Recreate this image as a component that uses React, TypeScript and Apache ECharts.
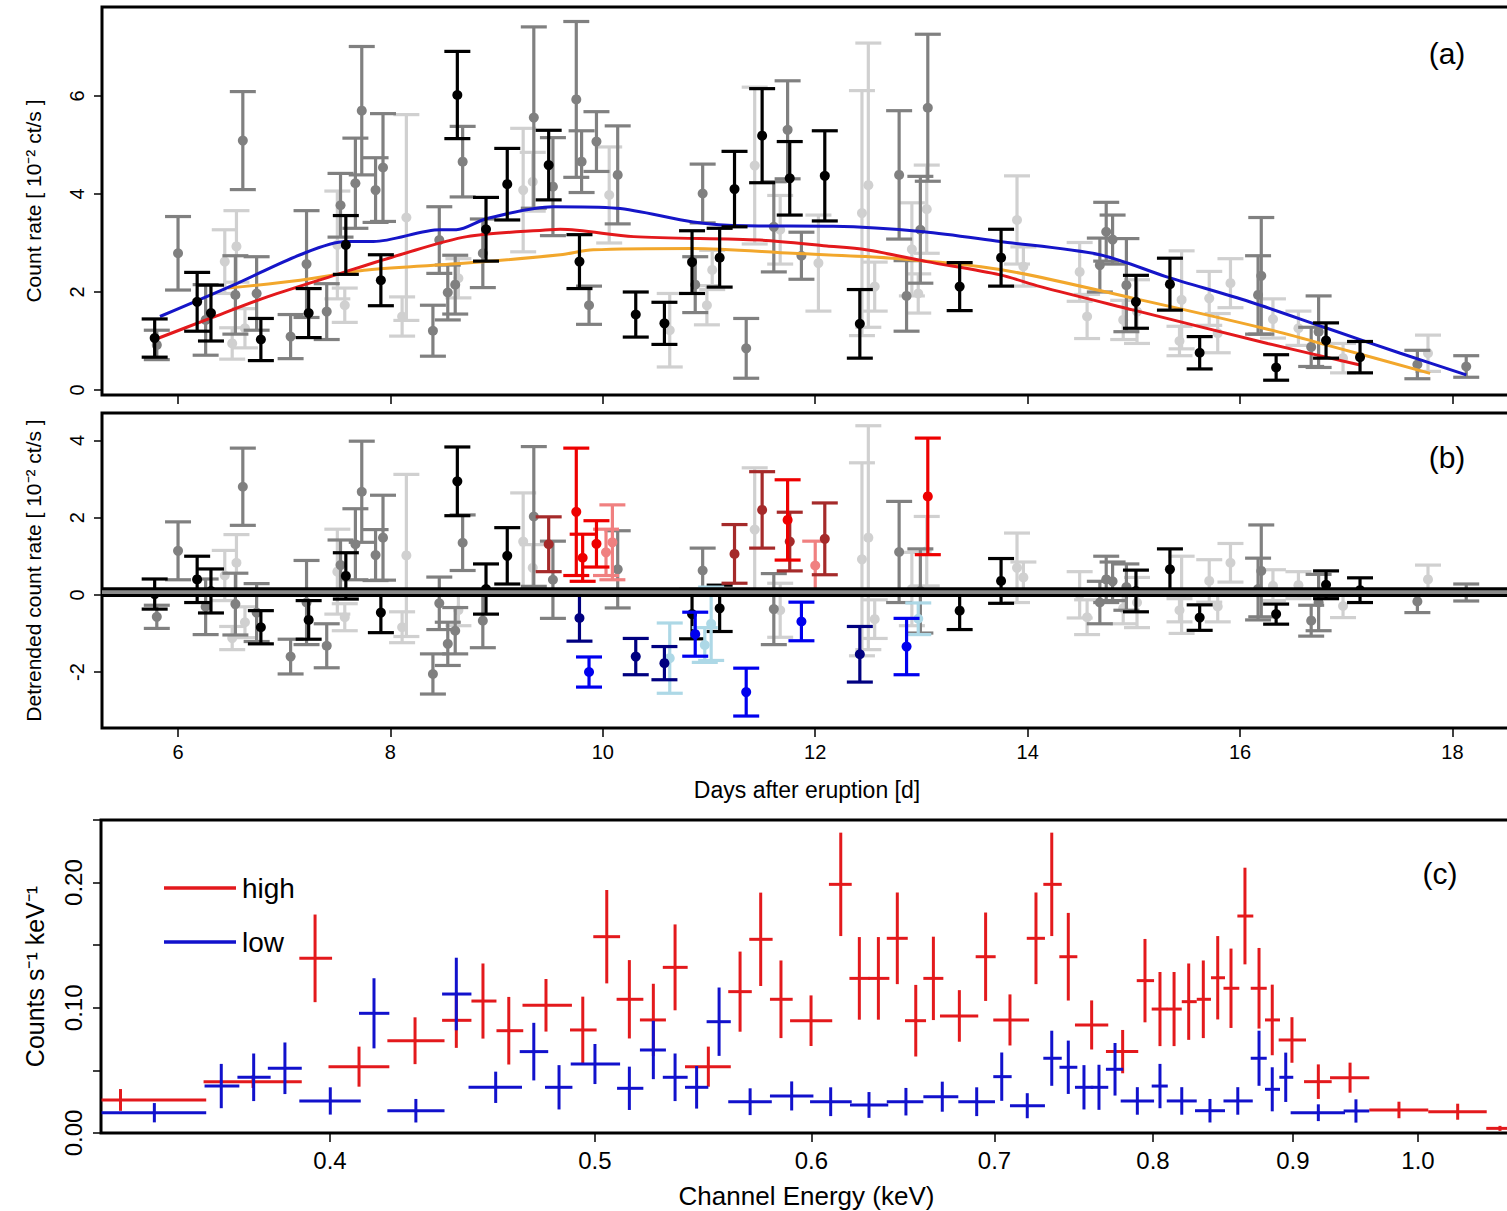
import React, { useEffect, useRef } from "react";
import * as echarts from "echarts";

const FONT = "'Liberation Sans', Arial, Helvetica, sans-serif";

// ---------- Panel (a): count rate, [day, rate, error] ----------
const aBlack = [
  [5.78, 1.06, 0.39], [6.18, 1.8, 0.6], [6.31, 1.57, 0.57], [6.78, 1.03, 0.43], [7.23, 1.57, 0.5],
  [7.58, 2.96, 0.6], [7.91, 2.24, 0.52], [8.63, 6.02, 0.89], [8.9, 3.28, 0.65], [9.1, 4.2, 0.73],
  [9.49, 4.59, 0.71], [9.78, 2.62, 0.55], [10.31, 1.54, 0.46], [10.58, 1.36, 0.43], [10.84, 2.61, 0.64],
  [11.1, 2.7, 0.6], [11.24, 4.1, 0.77], [11.5, 5.19, 0.96], [11.76, 4.32, 0.75], [12.09, 4.37, 0.92],
  [12.42, 1.35, 0.7], [13.36, 2.11, 0.49], [13.75, 2.7, 0.58], [15.02, 1.8, 0.54], [15.34, 2.16, 0.53],
  [15.62, 0.76, 0.33], [16.34, 0.46, 0.26], [16.81, 1.01, 0.36], [17.13, 0.67, 0.32],
];
const aGray = [
  [5.8, 0.92, 0.3], [6.0, 2.79, 0.75], [6.26, 1.43, 0.72], [6.54, 1.94, 0.8], [6.61, 5.09, 1.0],
  [6.74, 1.97, 0.75], [7.06, 1.09, 0.45], [7.21, 2.57, 1.09], [7.4, 1.6, 0.57], [7.53, 3.77, 0.65],
  [7.67, 4.22, 0.92], [7.73, 5.7, 1.31], [7.86, 4.08, 0.66], [7.93, 4.54, 1.1], [8.4, 1.21, 0.52],
  [8.46, 3.06, 0.68], [8.54, 1.99, 0.56], [8.61, 2.15, 0.6], [8.68, 4.66, 0.72], [8.87, 2.79, 0.7],
  [9.35, 5.56, 1.85], [9.53, 4.15, 1.0], [9.75, 5.93, 1.59], [9.8, 4.66, 0.63], [9.87, 1.73, 0.39],
  [9.94, 5.07, 0.61], [10.14, 4.39, 1.0], [10.87, 2.15, 0.57], [10.94, 4.01, 0.6], [11.35, 0.85, 0.61],
  [11.61, 3.33, 0.92], [11.74, 5.31, 1.0], [11.87, 2.74, 0.48], [12.79, 4.39, 1.31], [12.86, 1.92, 0.72],
  [12.99, 3.27, 1.09], [13.06, 5.76, 1.5], [14.68, 2.55, 0.55], [14.74, 3.23, 0.6], [14.8, 3.07, 0.5],
  [14.93, 2.14, 0.95], [16.17, 1.94, 0.8], [16.2, 2.33, 1.19], [16.67, 0.88, 0.4], [16.74, 1.19, 0.73],
  [17.67, 0.52, 0.29], [18.13, 0.48, 0.22],
];
const aLight = [
  [6.44, 2.62, 0.65], [6.51, 0.95, 0.32], [6.55, 2.93, 0.73], [6.63, 1.26, 0.4], [7.5, 2.96, 1.1],
  [7.57, 1.73, 0.35], [8.11, 1.5, 0.4], [8.15, 3.52, 2.1], [8.64, 2.28, 0.4], [9.25, 4.08, 1.26],
  [9.34, 4.25, 0.6], [10.06, 3.98, 0.98], [10.63, 1.22, 0.75], [10.98, 1.73, 0.4], [11.03, 2.45, 0.4],
  [11.43, 4.58, 1.6], [11.67, 3.27, 0.7], [12.03, 2.59, 0.98], [12.44, 3.61, 2.5], [12.5, 4.18, 2.9],
  [12.56, 2.11, 0.5], [12.91, 2.87, 0.95], [12.97, 1.97, 0.4], [13.05, 3.69, 0.9], [13.9, 3.47, 0.9],
  [13.96, 2.52, 0.4], [14.49, 2.41, 0.6], [14.56, 1.5, 0.45], [14.9, 1.43, 0.4], [15.03, 1.6, 0.65],
  [15.43, 1.0, 0.3], [15.45, 1.84, 1.0], [15.71, 1.87, 0.55], [15.79, 1.16, 0.4], [15.91, 2.18, 0.5],
  [16.31, 1.46, 0.4], [16.55, 1.26, 0.35], [16.97, 0.65, 0.3], [17.77, 0.75, 0.37],
];
const trendBlue = [
  [5.83, 1.5], [6.52, 2.14], [7.15, 2.76], [7.58, 3.03], [7.84, 3.03], [8.47, 3.27], [8.62, 3.27],
  [8.91, 3.5], [9.53, 3.74], [10.13, 3.71], [10.85, 3.43], [11.35, 3.35], [12.17, 3.34], [13.02, 3.23],
  [13.74, 3.03], [14.68, 2.76], [15.31, 2.31], [16.09, 1.8], [16.82, 1.26], [17.51, 0.75], [18.13, 0.31],
];
const trendRed = [
  [5.77, 1.02], [6.3, 1.46], [6.84, 1.9], [7.53, 2.38], [8.09, 2.76], [8.72, 3.13], [9.5, 3.27],
  [9.6, 3.28], [10.29, 3.13], [11.48, 3.06], [12.11, 2.94], [12.48, 2.86], [13.05, 2.62], [13.74, 2.35],
  [14.12, 2.11], [15.0, 1.63], [16.26, 0.95], [17.13, 0.51],
];
const trendOrange = [
  [6.47, 2.08], [7.15, 2.24], [7.78, 2.45], [8.72, 2.59], [9.6, 2.76], [9.91, 2.86], [10.85, 2.89],
  [11.79, 2.79], [12.73, 2.69], [13.74, 2.46], [15.0, 1.87], [16.26, 1.24], [16.88, 0.88], [17.79, 0.34],
];

// ---------- Panel (b): detrended count rate, [day, value, error] ----------
const bBlack = [
  [5.78, 0.02, 0.39], [6.18, 0.4, 0.6], [6.31, 0.1, 0.57], [6.78, -0.84, 0.43], [7.23, -0.65, 0.5],
  [7.58, 0.49, 0.6], [7.91, -0.46, 0.52], [8.63, 2.94, 0.89], [8.9, 0.15, 0.65], [9.1, 1.01, 0.73],
  [10.84, -0.5, 0.64], [11.1, -0.35, 0.6], [13.36, -0.41, 0.49], [13.75, 0.36, 0.58], [15.02, 0.1, 0.54],
  [15.34, 0.66, 0.53], [15.62, -0.59, 0.33], [16.34, -0.5, 0.26], [16.81, 0.26, 0.36], [17.13, 0.12, 0.32],
];
const bGray = [
  [5.8, -0.57, 0.3], [6.0, 1.14, 0.75], [6.26, -0.31, 0.72], [6.54, -0.24, 0.8], [6.61, 2.8, 1.0],
  [6.74, -0.46, 0.75], [7.06, -1.6, 0.45], [7.21, -0.2, 1.09], [7.4, -1.32, 0.57], [7.53, 0.77, 0.65],
  [7.67, 1.31, 0.92], [7.73, 2.67, 1.31], [7.86, 1.03, 0.66], [7.93, 1.48, 1.1], [8.4, -2.05, 0.52],
  [8.46, -0.22, 0.68], [8.54, -1.27, 0.56], [8.61, -0.93, 0.6], [8.68, 1.35, 0.72], [8.87, -0.67, 0.7],
  [9.35, 2.03, 1.81], [9.53, 0.39, 1.0], [10.14, 0.66, 1.0], [10.94, 0.63, 0.58], [11.61, -0.37, 0.92],
  [12.79, 1.11, 1.31], [12.99, 0.1, 1.09], [14.68, -0.2, 0.55], [14.74, 0.4, 0.6], [14.8, 0.35, 0.5],
  [14.93, 0.2, 0.6], [16.17, 0.15, 0.8], [16.2, 0.62, 1.19], [16.67, -0.67, 0.4], [16.74, -0.2, 0.73],
  [17.67, -0.17, 0.29], [18.13, 0.06, 0.22],
];
const bLight = [
  [6.44, 0.5, 0.65], [6.51, -1.12, 0.3], [6.55, 0.83, 0.73], [6.63, -0.71, 0.4], [7.5, 0.6, 1.1],
  [7.57, -0.58, 0.35], [8.11, -0.84, 0.4], [8.15, 1.02, 2.1], [8.64, -0.4, 0.4], [9.25, 1.38, 1.26],
  [9.34, 0.7, 0.6], [11.43, 1.69, 1.6], [11.67, -0.4, 0.7], [12.44, 0.92, 2.5], [12.5, 1.48, 2.9],
  [12.56, -0.63, 0.5], [12.91, 0.15, 0.95], [13.05, 1.13, 0.9], [13.9, 0.7, 0.9], [13.96, 0.45, 0.4],
  [14.49, 0.0, 0.6], [14.56, -0.58, 0.45], [14.9, -0.35, 0.4], [15.03, -0.2, 0.65], [15.43, -0.4, 0.3],
  [15.45, 0.0, 1.0], [15.71, 0.36, 0.55], [15.79, -0.3, 0.4], [15.91, 0.83, 0.5], [16.31, 0.25, 0.4],
  [16.55, 0.25, 0.35], [16.97, -0.29, 0.3], [17.77, 0.4, 0.37],
];
const bHighDark = [[9.49, 1.31, 0.71], [11.24, 1.06, 0.76], [11.5, 2.2, 0.99], [11.76, 1.38, 0.76], [12.09, 1.45, 0.93]];
const bHigh = [[9.75, 2.15, 1.65], [9.81, 0.96, 0.61], [9.94, 1.32, 0.6], [11.74, 1.94, 1.04], [13.06, 2.55, 1.51]];
const bHighLight = [[10.03, 1.1, 0.6], [10.09, 1.36, 0.97], [12.0, 0.76, 0.63]];
const bLowDark = [[9.78, -0.6, 0.6], [10.31, -1.6, 0.47], [10.58, -1.77, 0.43], [12.42, -1.54, 0.72]];
const bLow = [[9.87, -2.0, 0.39], [10.87, -1.02, 0.57], [11.35, -2.52, 0.62], [11.87, -0.69, 0.5], [12.86, -1.34, 0.73]];
const bLowLight = [[10.63, -1.64, 0.91], [10.96, -1.3, 0.45], [11.02, -0.75, 0.95], [12.97, -0.62, 0.41]];
const zeroBand = [[12, -0.02, 0.16]];

// ---------- Panel (c): spectra, [energy keV, bin low, bin high, counts/s/keV, error] ----------
const highSpec = [
  [0.3353, 0.33, 0.3604, 0.0264, 0.0087], [0.3749, 0.3596, 0.3906, 0.041, 0.005],
  [0.395, 0.3898, 0.4007, 0.1395, 0.035], [0.4099, 0.3995, 0.4205, 0.053, 0.016],
  [0.4297, 0.4198, 0.4405, 0.0737, 0.0187], [0.4449, 0.4396, 0.4506, 0.09, 0.022],
  [0.455, 0.4506, 0.4602, 0.1054, 0.03], [0.465, 0.4602, 0.4707, 0.0817, 0.027],
  [0.4798, 0.4704, 0.4904, 0.102, 0.021], [0.4949, 0.4896, 0.5007, 0.0823, 0.0266],
  [0.505, 0.4993, 0.5107, 0.1568, 0.0373], [0.5147, 0.5092, 0.5208, 0.1068, 0.0313],
  [0.5252, 0.5193, 0.5308, 0.0903, 0.0289], [0.5349, 0.5294, 0.5406, 0.1323, 0.0343],
  [0.5501, 0.5394, 0.5606, 0.053, 0.016], [0.565, 0.5594, 0.5706, 0.1129, 0.032],
  [0.5749, 0.5694, 0.5807, 0.1547, 0.0373], [0.5848, 0.5794, 0.5906, 0.1068, 0.031],
  [0.5998, 0.5893, 0.6106, 0.0897, 0.0202], [0.615, 0.6089, 0.6207, 0.1986, 0.0413],
  [0.6247, 0.6195, 0.6303, 0.1235, 0.033], [0.6348, 0.6294, 0.6407, 0.1235, 0.033],
  [0.645, 0.6393, 0.6507, 0.1555, 0.0366], [0.6551, 0.6492, 0.6608, 0.0897, 0.0286],
  [0.6649, 0.6593, 0.6705, 0.1235, 0.0333], [0.6796, 0.6686, 0.6905, 0.0935, 0.0206],
  [0.6948, 0.689, 0.7007, 0.1408, 0.0353], [0.7092, 0.6993, 0.7207, 0.0903, 0.0204],
  [0.7249, 0.7193, 0.7304, 0.1555, 0.0366], [0.7346, 0.7294, 0.7408, 0.1986, 0.0413],
  [0.7449, 0.7393, 0.7506, 0.1408, 0.035], [0.7597, 0.7491, 0.7704, 0.0863, 0.0196],
  [0.7798, 0.7689, 0.7901, 0.065, 0.0173], [0.7946, 0.7891, 0.8007, 0.1217, 0.0333],
  [0.8047, 0.7991, 0.8097, 0.099, 0.0296], [0.8143, 0.8093, 0.8196, 0.099, 0.0296],
  [0.8244, 0.8196, 0.83, 0.1049, 0.0305], [0.8346, 0.83, 0.84, 0.1068, 0.031],
  [0.8448, 0.84, 0.85, 0.124, 0.0333], [0.8543, 0.8489, 0.8603, 0.1156, 0.0317],
  [0.8644, 0.8589, 0.8705, 0.1733, 0.0386], [0.8747, 0.8686, 0.8804, 0.1156, 0.0322],
  [0.8845, 0.8791, 0.8903, 0.0903, 0.0282], [0.8993, 0.8893, 0.91, 0.0743, 0.0182],
  [0.9195, 0.9085, 0.9299, 0.041, 0.0138], [0.9444, 0.9286, 0.9598, 0.0442, 0.012],
  [0.9841, 0.9598, 1.0087, 0.0184, 0.0066], [1.034, 1.0087, 1.0596, 0.017, 0.0064],
  [1.0715, 1.0592, 1.0852, 0.0037, 0.002],
];
const lowSpec = [
  [0.345, 0.33, 0.3604, 0.0162, 0.0077], [0.365, 0.3599, 0.3706, 0.0375, 0.0177],
  [0.3751, 0.37, 0.3805, 0.0445, 0.019], [0.3851, 0.3796, 0.3906, 0.0517, 0.0206],
  [0.4001, 0.3898, 0.4105, 0.0256, 0.0109], [0.4151, 0.4099, 0.4205, 0.0956, 0.028],
  [0.43, 0.4198, 0.4405, 0.0178, 0.0094], [0.4449, 0.4396, 0.4506, 0.111, 0.029],
  [0.4599, 0.4495, 0.4702, 0.0365, 0.0125], [0.4749, 0.4693, 0.4807, 0.065, 0.023],
  [0.4851, 0.4794, 0.4906, 0.0365, 0.0177], [0.5, 0.4899, 0.5107, 0.0551, 0.016],
  [0.5147, 0.5094, 0.5208, 0.0357, 0.0173], [0.5252, 0.5193, 0.5308, 0.0663, 0.0233],
  [0.5349, 0.5294, 0.5406, 0.0445, 0.019], [0.5447, 0.5394, 0.5501, 0.0365, 0.017],
  [0.5551, 0.5493, 0.5606, 0.0889, 0.0273], [0.5698, 0.5594, 0.5803, 0.025, 0.0107],
  [0.5901, 0.5794, 0.601, 0.0296, 0.0116], [0.6098, 0.5993, 0.6207, 0.025, 0.0115],
  [0.6298, 0.6198, 0.6401, 0.0224, 0.0103], [0.6497, 0.6393, 0.6593, 0.025, 0.011],
  [0.6699, 0.6593, 0.679, 0.029, 0.012], [0.6896, 0.679, 0.7003, 0.025, 0.0115],
  [0.7043, 0.6993, 0.7102, 0.045, 0.0193], [0.7196, 0.7092, 0.7304, 0.0218, 0.01],
  [0.7346, 0.7294, 0.7408, 0.0597, 0.022], [0.7449, 0.7394, 0.7506, 0.0525, 0.0213],
  [0.7548, 0.7491, 0.7608, 0.0365, 0.0177], [0.7644, 0.7591, 0.7704, 0.0365, 0.018],
  [0.7748, 0.7689, 0.7802, 0.0509, 0.021], [0.7895, 0.7785, 0.8007, 0.0256, 0.011],
  [0.8047, 0.7991, 0.81, 0.0375, 0.0177], [0.8196, 0.8093, 0.83, 0.0256, 0.011],
  [0.8393, 0.8288, 0.85, 0.0178, 0.0094], [0.8592, 0.8489, 0.8701, 0.0256, 0.011],
  [0.8747, 0.8686, 0.8804, 0.0597, 0.022], [0.8845, 0.8791, 0.8903, 0.0349, 0.0176],
  [0.8946, 0.8898, 0.9003, 0.0445, 0.0197], [0.9195, 0.8983, 0.9404, 0.0162, 0.0067],
  [0.9491, 0.9393, 0.9598, 0.0176, 0.0093],
];

// ---------- axis ticks ----------
const dayTicks = [6, 8, 10, 12, 14, 16, 18];
const rateTicks = [0, 2, 4, 6];
const detrendTicks = [-2, 0, 2, 4];
const energyTicks = [0.4, 0.5, 0.6, 0.7, 0.8, 0.9, 1.0];
const specTicks = [0, 0.05, 0.1, 0.15, 0.2, 0.25];
const specLabels = [0, 0.1, 0.2];

const DAY_MIN = 5.284;
const DAY_MAX = 18.561;
const E_MIN = 0.32984;
const E_MAX = 1.0824;

function errorBars(data: number[][], color: string, gi: number, z: number) {
  return {
    type: "custom",
    xAxisIndex: gi,
    yAxisIndex: gi,
    z,
    clip: true,
    silent: true,
    data,
    encode: { x: 0, y: 1 },
    renderItem: (_p: any, api: any) => {
      const x = api.value(0);
      const y = api.value(1);
      const e = api.value(2);
      const p = api.coord([x, y]);
      const t = api.coord([x, y + e]);
      const b = api.coord([x, y - e]);
      const cap = 13;
      const st = { stroke: color, lineWidth: 3.2, fill: null };
      return {
        type: "group",
        children: [
          { type: "line", shape: { x1: p[0], y1: t[1], x2: p[0], y2: b[1] }, style: st },
          { type: "line", shape: { x1: p[0] - cap, y1: t[1], x2: p[0] + cap, y2: t[1] }, style: st },
          { type: "line", shape: { x1: p[0] - cap, y1: b[1], x2: p[0] + cap, y2: b[1] }, style: st },
          { type: "circle", shape: { cx: p[0], cy: p[1], r: 5 }, style: { fill: color } },
        ],
      };
    },
  };
}

function crosses(data: number[][], color: string) {
  return {
    type: "custom",
    xAxisIndex: 2,
    yAxisIndex: 2,
    z: 3,
    clip: true,
    silent: true,
    data: data.map((d) => [Math.log10(d[0]), Math.log10(d[1]), Math.log10(d[2]), d[3], d[4]]),
    encode: { x: 0, y: 3 },
    renderItem: (_p: any, api: any) => {
      const x = api.value(0);
      const lo = api.value(1);
      const hi = api.value(2);
      const y = api.value(3);
      const e = api.value(4);
      const L = api.coord([lo, y]);
      const R = api.coord([hi, y]);
      const T = api.coord([x, y + e]);
      const B = api.coord([x, y - e]);
      const st = { stroke: color, lineWidth: 3, fill: null };
      return {
        type: "group",
        children: [
          { type: "line", shape: { x1: L[0], y1: L[1], x2: R[0], y2: R[1] }, style: st },
          { type: "line", shape: { x1: T[0], y1: T[1], x2: B[0], y2: B[1] }, style: st },
        ],
      };
    },
  };
}

function trend(data: number[][], color: string) {
  return {
    type: "line",
    xAxisIndex: 0,
    yAxisIndex: 0,
    z: 4,
    data,
    showSymbol: false,
    symbol: "none",
    smooth: 0.3,
    silent: true,
    lineStyle: { color, width: 3 },
  };
}

const tickStyle = { color: "#000", width: 1.5 };
const hiddenLine = { show: false, onZero: false };
const gridBase = {
  show: true,
  borderColor: "#000",
  borderWidth: 3,
  backgroundColor: "transparent",
  containLabel: false,
  outerBoundsMode: "none",
};

function buildOption() {
  const labelBase = { color: "#000", fontFamily: FONT };
  return {
    animation: false,
    backgroundColor: "#ffffff",
    textStyle: { fontFamily: FONT },
    grid: [
      { ...gridBase, left: 102, top: 7, width: 1410, height: 388 },
      { ...gridBase, left: 102, top: 413, width: 1410, height: 315 },
      { ...gridBase, left: 101, top: 820, width: 1411, height: 313 },
    ],
    xAxis: [
      {
        gridIndex: 0, type: "value", min: DAY_MIN, max: DAY_MAX, position: "bottom",
        axisLine: hiddenLine, splitLine: { show: false },
        axisTick: { show: true, length: 9, lineStyle: tickStyle, customValues: dayTicks },
        axisLabel: { show: false },
      },
      {
        gridIndex: 1, type: "value", min: DAY_MIN, max: DAY_MAX, position: "bottom",
        axisLine: hiddenLine, splitLine: { show: false },
        axisTick: { show: true, length: 9, lineStyle: tickStyle, customValues: dayTicks },
        axisLabel: { ...labelBase, fontSize: 20, margin: 14, customValues: dayTicks },
        name: "Days after eruption [d]", nameLocation: "middle", nameGap: 50,
        nameTextStyle: { ...labelBase, fontSize: 23 },
      },
      {
        gridIndex: 2, type: "value", min: Math.log10(E_MIN), max: Math.log10(E_MAX), position: "bottom",
        axisLine: hiddenLine, splitLine: { show: false },
        axisTick: { show: true, length: 9, lineStyle: tickStyle, customValues: energyTicks.map((v) => Math.log10(v)) },
        axisLabel: {
          ...labelBase, fontSize: 24, margin: 15,
          customValues: energyTicks.map((v) => Math.log10(v)),
          formatter: (v: number) => Math.pow(10, v).toFixed(1),
        },
        name: "Channel Energy (keV)", nameLocation: "middle", nameGap: 50,
        nameTextStyle: { ...labelBase, fontSize: 26 },
      },
    ],
    yAxis: [
      {
        gridIndex: 0, type: "value", min: -0.102, max: 7.816, position: "left",
        axisLine: hiddenLine, splitLine: { show: false },
        axisTick: { show: true, length: 8, lineStyle: tickStyle, customValues: rateTicks },
        axisLabel: { ...labelBase, fontSize: 20, margin: 15, rotate: 90, customValues: rateTicks },
        name: "Count rate [ 10\u207B\u00B2 ct/s ]", nameLocation: "middle", nameGap: 58,
        nameTextStyle: { ...labelBase, fontSize: 21 },
      },
      {
        gridIndex: 1, type: "value", min: -3.45, max: 4.71, position: "left",
        axisLine: hiddenLine, splitLine: { show: false },
        axisTick: { show: true, length: 8, lineStyle: tickStyle, customValues: detrendTicks },
        axisLabel: { ...labelBase, fontSize: 20, margin: 15, rotate: 90, customValues: detrendTicks },
        name: "Detrended count rate [ 10\u207B\u00B2 ct/s ]", nameLocation: "middle", nameGap: 58,
        nameTextStyle: { ...labelBase, fontSize: 21 },
      },
      {
        gridIndex: 2, type: "value", min: 0, max: 0.25, position: "left",
        axisLine: hiddenLine, splitLine: { show: false },
        axisTick: { show: true, length: 8, lineStyle: tickStyle, customValues: specTicks },
        axisLabel: {
          ...labelBase, fontSize: 24, margin: 16, rotate: 90, customValues: specLabels,
          formatter: (v: number) => v.toFixed(2),
        },
        name: "Counts s\u207B\u00B9 keV\u207B\u00B9", nameLocation: "middle", nameGap: 54,
        nameTextStyle: { ...labelBase, fontSize: 25 },
      },
    ],
    series: [
      errorBars(aLight, "#d0d0d0", 0, 2),
      errorBars(aGray, "#808080", 0, 3),
      trend(trendOrange, "#f2a72c"),
      trend(trendRed, "#e3191c"),
      trend(trendBlue, "#1515c8"),
      errorBars(aBlack, "#000000", 0, 5),

      errorBars(bLight, "#d0d0d0", 1, 2),
      errorBars(bGray, "#808080", 1, 3),
      errorBars(bBlack, "#000000", 1, 4),
      errorBars(bHighLight, "#f08080", 1, 5),
      errorBars(bLowLight, "#add8e6", 1, 5),
      errorBars(bHighDark, "#a52a2a", 1, 6),
      errorBars(bLowDark, "#000080", 1, 6),
      errorBars(bHigh, "#ee0000", 1, 7),
      errorBars(bLow, "#0000ee", 1, 7),
      {
        type: "custom",
        xAxisIndex: 1,
        yAxisIndex: 1,
        z: 10,
        silent: true,
        data: zeroBand,
        encode: { x: 0, y: 1 },
        renderItem: (params: any, api: any) => {
          const cs = params.coordSys;
          const lo = api.coord([api.value(0), api.value(1)])[1];
          const hi = api.coord([api.value(0), api.value(2)])[1];
          return {
            type: "group",
            children: [
              { type: "rect", shape: { x: cs.x, y: hi, width: cs.width, height: lo - hi }, style: { fill: "#8a8a8a" } },
              { type: "line", shape: { x1: cs.x, y1: hi, x2: cs.x + cs.width, y2: hi }, style: { stroke: "#000", lineWidth: 3 } },
              { type: "line", shape: { x1: cs.x, y1: lo, x2: cs.x + cs.width, y2: lo }, style: { stroke: "#000", lineWidth: 3 } },
            ],
          };
        },
      },

      crosses(highSpec, "#e3191c"),
      crosses(lowSpec, "#1111cc"),
    ],
    graphic: [
      { type: "text", x: 1447, y: 53, z: 20, style: { text: "(a)", fontSize: 30, fontFamily: FONT, fill: "#000", textAlign: "center", textVerticalAlign: "middle", align: "center", verticalAlign: "middle" } },
      { type: "text", x: 1447, y: 457, z: 20, style: { text: "(b)", fontSize: 30, fontFamily: FONT, fill: "#000", textAlign: "center", textVerticalAlign: "middle", align: "center", verticalAlign: "middle" } },
      { type: "text", x: 1440, y: 873, z: 20, style: { text: "(c)", fontSize: 30, fontFamily: FONT, fill: "#000", textAlign: "center", textVerticalAlign: "middle", align: "center", verticalAlign: "middle" } },
      { type: "line", z: 20, shape: { x1: 164, y1: 888, x2: 236, y2: 888 }, style: { stroke: "#e3191c", lineWidth: 3.5 } },
      { type: "text", x: 242, y: 888, z: 20, style: { text: "high", fontSize: 28, fontFamily: FONT, fill: "#000", textAlign: "left", textVerticalAlign: "middle", align: "left", verticalAlign: "middle" } },
      { type: "line", z: 20, shape: { x1: 164, y1: 942, x2: 236, y2: 942 }, style: { stroke: "#1111cc", lineWidth: 3.5 } },
      { type: "text", x: 242, y: 942, z: 20, style: { text: "low", fontSize: 28, fontFamily: FONT, fill: "#000", textAlign: "left", textVerticalAlign: "middle", align: "left", verticalAlign: "middle" } },
    ],
  };
}

export default function App() {
  const ref = useRef<HTMLDivElement | null>(null);
  useEffect(() => {
    if (!ref.current) return;
    const chart = echarts.init(ref.current, null, { renderer: "svg" });
    chart.setOption(buildOption() as any);
    return () => chart.dispose();
  }, []);
  return (
    <div style={{ position: "absolute", left: 0, top: 0, width: 1507, height: 1211, overflow: "hidden", background: "#fff" }}>
      <div ref={ref} style={{ width: 1515, height: 1211 }} />
    </div>
  );
}
